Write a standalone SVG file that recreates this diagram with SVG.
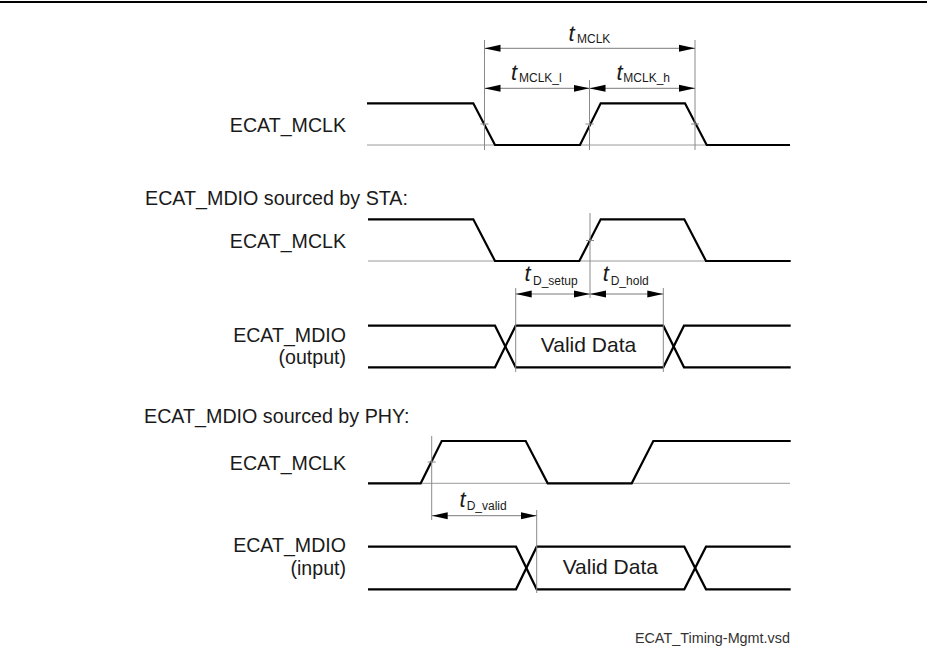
<svg xmlns="http://www.w3.org/2000/svg" width="927" height="655" viewBox="0 0 927 655">
<style>
  text { font-family: "Liberation Sans", Arial, sans-serif; fill: #1a1a1a; }
  .lbl { font-size: 19.6px; text-anchor: end; }
  .head { font-size: 19.7px; }
  .vd { font-size: 21px; text-anchor: middle; }
  .t { font-size: 22px; font-style: italic; }
  .sub { font-size: 12px; }
  .sig { fill: none; stroke: #000; stroke-width: 2.2; stroke-linejoin: miter; }
  .ref { fill: none; stroke: #9a9a9a; stroke-width: 1; }
  .ext { fill: none; stroke: #8a8a8a; stroke-width: 1; }
  .dim { fill: none; stroke: #7a7a7a; stroke-width: 1; marker-start: url(#ah); marker-end: url(#ah); }
  .foot { font-size: 14.4px; text-anchor: end; fill: #333; }
</style>
<defs>
  <marker id="ah" markerUnits="userSpaceOnUse" markerWidth="16" markerHeight="8" refX="16" refY="4" orient="auto-start-reverse">
    <path d="M0,0.5 L16,4 L0,7.5 z" fill="#000"/>
  </marker>
</defs>
<rect width="927" height="655" fill="#fff"/>
<line x1="0" y1="2" x2="927" y2="2" stroke="#000" stroke-width="2"/>

<g id="diagram1-mclk">
  <text class="lbl" x="346" y="132">ECAT_MCLK</text>
  <path class="ref" d="M367,145 H790"/>
  <path class="sig" d="M367,103.3 H473.3 L495,145 H580 L600.7,103.3 H685 L706.7,145 H790"/>
</g>

<g id="diagram2-heading"><text class="head" x="145" y="205">ECAT_MDIO sourced by STA:</text></g>
<g id="diagram2-mclk">
  <text class="lbl" x="346" y="248">ECAT_MCLK</text>
  <path class="ref" d="M368,261 H790"/>
  <path class="sig" d="M368,219.3 H473.3 L495,261 H579.3 L600.7,219.3 H684.3 L706,261 H790.7"/>
</g>
<g id="diagram2-mdio">
  <text class="lbl" x="346" y="342">ECAT_MDIO</text>
  <text class="lbl" x="346" y="364">(output)</text>
  <path class="sig" d="M368,325.7 H495 L515.7,367.3 H663.3 L684,325.7 H790.7"/>
  <path class="sig" d="M368,367.3 H495 L515.7,325.7 H663.3 L684,367.3 H790.7"/>
  <text class="vd" x="588.5" y="352">Valid Data</text>
</g>

<g id="diagram3-heading"><text class="head" x="144" y="423">ECAT_MDIO sourced by PHY:</text></g>
<g id="diagram3-mclk">
  <text class="lbl" x="346" y="470">ECAT_MCLK</text>
  <path class="ref" d="M368,483.3 H790"/>
  <path class="sig" d="M368,483.3 H420.7 L441.7,441 H525.7 L547.7,483.3 H631.7 L653.3,441 H790.7"/>
</g>
<g id="diagram3-mdio">
  <text class="lbl" x="346" y="552">ECAT_MDIO</text>
  <text class="lbl" x="346" y="575">(input)</text>
  <path class="sig" d="M368,546.7 H516 L536.7,589.3 H684.3 L706,546.7 H790.7"/>
  <path class="sig" d="M368,589.3 H516 L536.7,546.7 H684.3 L706,589.3 H790.7"/>
  <text class="vd" x="610.3" y="573.5">Valid Data</text>
</g>

<g id="connectors">
  <path class="ext" d="M484.5,40 V150 M589.5,80 V150 M695,40 V150"/>
  <path class="ext" d="M480.5,124 H488.5 M585.5,124 H593.5 M691,124 H699"/>
  <path class="dim" d="M484.5,48.3 H695"/>
  <path class="dim" d="M484.5,88.3 H589.5"/>
  <path class="dim" d="M589.5,88.3 H695"/>
  <path class="ext" d="M590,213 V298 M515.7,288 V372 M663.3,288 V372"/>
  <path class="ext" d="M586,240.5 H594"/>
  <path class="dim" d="M515.7,294 H590"/>
  <path class="dim" d="M590,294 H663.3"/>
  <path class="ext" d="M431.7,436 V520 M536.7,510 V593"/>
  <path class="ext" d="M427.7,462 H435.7"/>
  <path class="dim" d="M431.7,515.7 H536.7"/>
</g>

<g id="dimension-labels">
  <text class="t" x="568.5" y="41">t</text><text class="sub" x="577" y="43">MCLK</text>
  <text class="t" x="511" y="80">t</text><text class="sub" x="519" y="82">MCLK_l</text>
  <text class="t" x="616.5" y="80">t</text><text class="sub" x="623.3" y="82">MCLK_h</text>
  <text class="t" x="524.5" y="281">t</text><text class="sub" x="533" y="285">D_setup</text>
  <text class="t" x="602.8" y="281">t</text><text class="sub" x="610.7" y="285">D_hold</text>
  <text class="t" x="459.5" y="507">t</text><text class="sub" x="466.7" y="510">D_valid</text>
</g>

<g id="footer"><text class="foot" x="790" y="643">ECAT_Timing-Mgmt.vsd</text></g>
</svg>
